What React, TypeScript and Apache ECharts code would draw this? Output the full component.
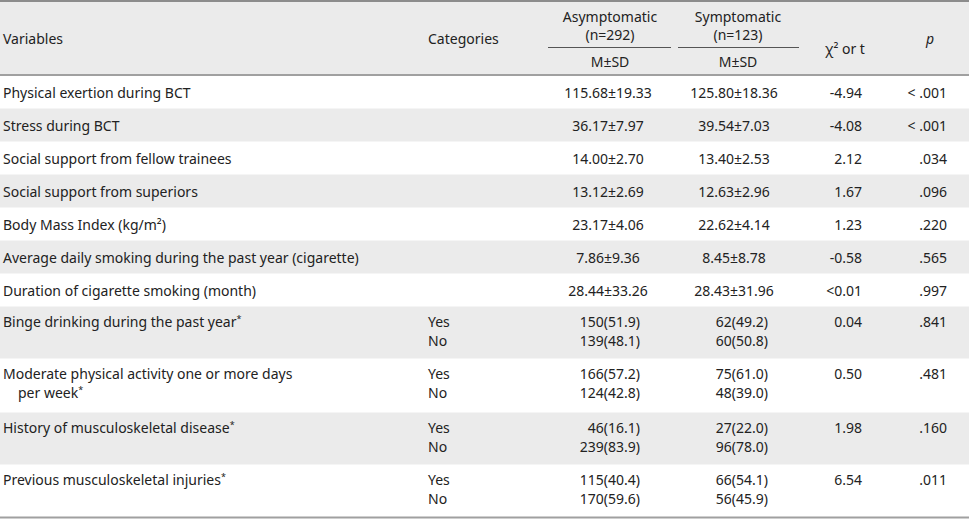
import React, { useEffect, useRef } from "react";
import * as echarts from "echarts";

// ---- data ----
const variableLines: string[][] = [
  ["Physical exertion during BCT"],
  ["Stress during BCT"],
  ["Social support from fellow trainees"],
  ["Social support from superiors"],
  ["Body Mass Index (kg/m²)"],
  ["Average daily smoking during the past year (cigarette)"],
  ["Duration of cigarette smoking (month)"],
  ["Binge drinking during the past year*"],
  ["Moderate physical activity one or more days", "   per week*"],
  ["History of musculoskeletal disease*"],
  ["Previous musculoskeletal injuries*"],
];
const asymMean = ["115.68±19.33", "36.17±7.97", "14.00±2.70", "13.12±2.69", "23.17±4.06", "7.86±9.36", "28.44±33.26"];
const sympMean = ["125.80±18.36", "39.54±7.03", "13.40±2.53", "12.63±2.96", "22.62±4.14", "8.45±8.78", "28.43±31.96"];
const categories = ["Yes", "No"];
const asymYes = ["150(51.9)", "166(57.2)", "46(16.1)", "115(40.4)"];
const asymNo = ["139(48.1)", "124(42.8)", "239(83.9)", "170(59.6)"];
const sympYes = ["62(49.2)", "75(61.0)", "27(22.0)", "66(54.1)"];
const sympNo = ["60(50.8)", "48(39.0)", "96(78.0)", "56(45.9)"];
const statValues = ["-4.94", "-4.08", "2.12", "1.67", "1.23", "-0.58", "<0.01", "0.04", "0.50", "1.98", "6.54"];
const pValues = ["< .001", "< .001", ".034", ".096", ".220", ".565", ".997", ".841", ".481", ".160", ".011"];
const headers = {
  variables: "Variables",
  categories: "Categories",
  asym: ["Asymptomatic", "(n=292)"],
  symp: ["Symptomatic", "(n=123)"],
  msd: "M±SD",
  stat: "χ² or t",
  p: "p",
};

const FONT = "'Noto Sans', 'Open Sans', sans-serif";
const TXT = "#222";
const GRAY = "#ebebeb";
const LINE = "#a0a0a0";

function txt(x: number, y: number, s: string, align: string = "left", extra: any = {}) {
  const hasStar = s.endsWith("*");
  const style: any = {
    x: 0,
    y: 0,
    text: hasStar ? `{m|${s.slice(0, -1)}}{s|*}` : s,
    fill: TXT,
    fontSize: 14,
    fontFamily: FONT,
    align,
    verticalAlign: "middle",
    ...extra,
  };
  if (hasStar) {
    style.rich = {
      m: { fontSize: 14, fontFamily: FONT, fill: TXT },
      s: { fontSize: 9, fontFamily: FONT, fill: TXT, padding: [0, 0, 6, 0] },
    };
  }
  return { type: "text", x, y, style, silent: true };
}

export default function App() {
  const ref = useRef<HTMLDivElement>(null);
  useEffect(() => {
    if (!ref.current) return;
    const chart = echarts.init(ref.current, undefined, { renderer: "svg" });
    const W = 969;
    const els: any[] = [];
    // header band
    els.push({ type: "rect", shape: { x: 0, y: 2, width: W, height: 73 }, style: { fill: GRAY }, silent: true });
    // row geometry
    const rowH = variableLines.map((_, i) => (i < 7 ? 33 : i === 7 ? 52 : i === 8 ? 54 : 52));
    let y = 75.5;
    const tops: number[] = [];
    rowH.forEach((h) => {
      tops.push(y);
      y += h;
    });
    tops.forEach((t, i) => {
      if (i % 2 === 1) els.push({ type: "rect", shape: { x: 0, y: t, width: W, height: rowH[i] }, style: { fill: GRAY }, silent: true });
    });
    // lines
    els.push({ type: "line", shape: { x1: 0, y1: 1, x2: W, y2: 1 }, style: { stroke: "#8c8c8c", lineWidth: 2 }, silent: true });
    els.push({ type: "line", shape: { x1: 0, y1: 75, x2: W, y2: 75 }, style: { stroke: LINE, lineWidth: 2 }, silent: true });
    els.push({ type: "line", shape: { x1: 0, y1: 517.5, x2: W, y2: 517.5 }, style: { stroke: LINE, lineWidth: 2 }, silent: true });
    els.push({ type: "line", shape: { x1: 548, y1: 47.5, x2: 671, y2: 47.5 }, style: { stroke: "#555", lineWidth: 1 }, silent: true });
    els.push({ type: "line", shape: { x1: 678, y1: 47.5, x2: 799, y2: 47.5 }, style: { stroke: "#555", lineWidth: 1 }, silent: true });
    // headers
    els.push(txt(3, 38, headers.variables));
    els.push(txt(428, 38, headers.categories));
    els.push(txt(610, 16, headers.asym[0], "center"));
    els.push(txt(610, 34, headers.asym[1], "center"));
    els.push(txt(738, 16, headers.symp[0], "center"));
    els.push(txt(738, 34, headers.symp[1], "center"));
    els.push(txt(610, 61, headers.msd, "center"));
    els.push(txt(738, 61, headers.msd, "center"));
    els.push(txt(845, 48, headers.stat, "center"));
    els.push(txt(930, 38, headers.p, "center", { fontStyle: "italic" }));
    // body
    variableLines.forEach((lines, i) => {
      const t = tops[i];
      const single = i < 7;
      const y1 = single ? t + rowH[i] / 2 : t + 15;
      const y2 = y1 + 19;
      lines.forEach((ln, k) => {
        const indent = ln.startsWith(" ") ? 18 : 3;
        els.push(txt(indent, k === 0 ? y1 : y2, ln.trim()));
      });
      if (single) {
        els.push(txt(608, y1, asymMean[i], "center"));
        els.push(txt(734, y1, sympMean[i], "center"));
      } else {
        const j = i - 7;
        els.push(txt(428, y1, categories[0]));
        els.push(txt(428, y2, categories[1]));
        els.push(txt(640, y1, asymYes[j], "right"));
        els.push(txt(640, y2, asymNo[j], "right"));
        els.push(txt(768, y1, sympYes[j], "right"));
        els.push(txt(768, y2, sympNo[j], "right"));
      }
      els.push(txt(862, y1, statValues[i], "right"));
      els.push(txt(947, y1, pValues[i], "right"));
    });
    chart.setOption({ animation: false, backgroundColor: "#fff", graphic: { elements: els } });
    return () => chart.dispose();
  }, []);
  return <div ref={ref} style={{ position: "fixed", left: 0, top: 0, width: 969, height: 521 }} />;
}
